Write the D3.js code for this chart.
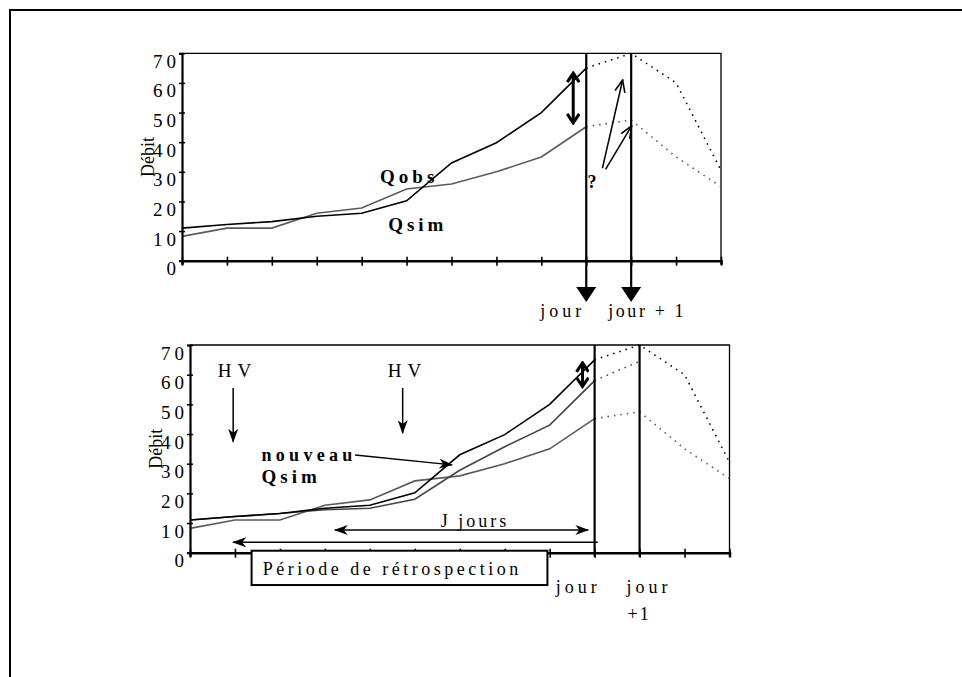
<!DOCTYPE html>
<html>
<head>
<meta charset="utf-8">
<script src="https://cdn.jsdelivr.net/npm/d3@7"></script>
<style>
    body { margin: 0; background: #fff; }
    text { font-family: "Liberation Serif", "Times New Roman", serif; fill: #000; }
</style>
</head>
<body>
<div id="chart"></div>
<script>
// Days on the x axis (index), jour = day 9, jour + 1 = day 10
const days = [0, 1, 2, 3, 4, 5, 6, 7, 8, 9, 10, 11, 12];
const qObs = [11, 12.2, 13.2, 15, 16, 20.2, 33, 39.8, 50, 65, 70, 60, 30.5];
const qSim = [8.2, 11, 11, 16, 17.8, 24.2, 25.9, 30, 35, 45.2, 47.5, 35, 25];
const qSimNew = [11, 12.2, 13.2, 14.5, 15, 18, 27.8, 35.7, 43, 58, 64.5];
const yTicks = [0, 10, 20, 30, 40, 50, 60, 70];
const yTickLabels = ['0', '10', '20', '30', '40', '50', '60', '70'];
const jourDay = 9;

const width = 962, height = 677;

const svg = d3.select('#chart')
    .append('svg')
    .attr('width', width)
    .attr('height', height);

// Arrow markers
const defs = svg.append('defs');
defs.append('marker')
    .attr('id', 'head-fill')
    .attr('markerUnits', 'userSpaceOnUse')
    .attr('viewBox', '0 0 14 10')
    .attr('markerWidth', 14).attr('markerHeight', 10)
    .attr('refX', 13).attr('refY', 5)
    .attr('orient', 'auto-start-reverse')
    .append('path')
    .attr('d', 'M0,0 L14,5 L0,10 L4,5 Z')
    .attr('fill', '#000');
defs.append('marker')
    .attr('id', 'head-open')
    .attr('markerUnits', 'userSpaceOnUse')
    .attr('viewBox', '0 0 14 12')
    .attr('markerWidth', 14).attr('markerHeight', 12)
    .attr('refX', 13).attr('refY', 6)
    .attr('orient', 'auto-start-reverse')
    .append('path')
    .attr('d', 'M1,1 L13,6 L1,11')
    .attr('fill', 'none')
    .attr('stroke', '#000')
    .attr('stroke-width', 1.6);
defs.append('marker')
    .attr('id', 'head-bold')
    .attr('markerUnits', 'userSpaceOnUse')
    .attr('viewBox', '0 0 12 14')
    .attr('markerWidth', 12).attr('markerHeight', 14)
    .attr('refX', 10).attr('refY', 7)
    .attr('orient', 'auto-start-reverse')
    .append('path')
    .attr('d', 'M1,1 L10,7 L1,13')
    .attr('fill', 'none')
    .attr('stroke', '#000')
    .attr('stroke-width', 3);

// Outer frame (top and left only)
svg.append('path')
    .attr('d', `M10,${height} L10,10 L${width},10`)
    .attr('fill', 'none')
    .attr('stroke', '#000')
    .attr('stroke-width', 2);

function drawPanel(panel, series) {
    const g = svg.append('g');
    const x = d3.scaleLinear().domain([0, 12]).range([panel.left, panel.right]);
    const y = d3.scaleLinear().domain([0, 70]).range([panel.bottom, panel.top]);

    // Plot frame top and right
    g.append('path')
        .attr('d', `M${x(0)},${y(70)} L${x(12)},${y(70)} L${x(12)},${y(0)}`)
        .attr('fill', 'none')
        .attr('stroke', '#000')
        .attr('stroke-width', 1.3);

    // Series: solid up to jour, dotted afterwards
    series.forEach(s => {
        const pts = s.values.map((v, i) => [x(days[i]), y(v)]);
        g.append('path')
            .attr('d', d3.line()(pts.slice(0, jourDay + 1)))
            .attr('fill', 'none')
            .attr('stroke', s.color)
            .attr('stroke-width', 1.6);
        g.append('path')
            .attr('d', d3.line()(pts.slice(jourDay)))
            .attr('fill', 'none')
            .attr('stroke', s.color)
            .attr('stroke-width', 1.6)
            .attr('stroke-dasharray', '1.5,5');
    });

    // Y axis
    const yAxis = g.append('g')
        .attr('transform', `translate(${x(0)},0)`)
        .call(d3.axisLeft(y).tickValues(yTicks).tickSize(3).tickFormat((d, i) => yTickLabels[i]));
    yAxis.select('.domain').attr('stroke-width', 2.2);
    yAxis.selectAll('.tick line').attr('x1', -3).attr('x2', 3).attr('stroke-width', 1.5);
    yAxis.selectAll('.tick text')
        .attr('x', -2)
        .attr('dy', 14)
        .style('font-family', '"Liberation Serif", serif')
        .style('font-size', '19px')
        .style('letter-spacing', '4px');

    // X axis
    const xAxis = g.append('g')
        .attr('transform', `translate(0,${y(0)})`)
        .call(d3.axisBottom(x).tickValues(days).tickSize(4).tickFormat(''));
    xAxis.select('.domain').attr('stroke-width', 2.6);
    xAxis.selectAll('.tick line').attr('y1', -4).attr('y2', 5).attr('stroke-width', 1.6);

    // Y label
    g.append('text')
        .attr('transform', `translate(${panel.left - 28},${(y(0) + y(70)) / 2}) rotate(-90)`)
        .attr('text-anchor', 'middle')
        .style('font-size', '18px')
        .text('Débit');

    return { g, x, y };
}

function label(p, text, dx, dy, opts) {
    const t = p.g.append('text')
        .attr('x', p.x(dx))
        .attr('y', p.y(dy))
        .style('font-size', (opts.size || 18) + 'px')
        .style('letter-spacing', (opts.spacing || 0) + 'px')
        .text(text);
    if (opts.bold) t.style('font-weight', 'bold');
    return t;
}

function arrow(p, x1, y1, x2, y2, opts) {
    const l = p.g.append('line')
        .attr('x1', p.x(x1)).attr('y1', p.y(y1))
        .attr('x2', p.x(x2)).attr('y2', p.y(y2))
        .attr('stroke', '#000')
        .attr('stroke-width', opts.width || 1.5);
    if (opts.end) l.attr('marker-end', `url(#${opts.end})`);
    if (opts.start) l.attr('marker-start', `url(#${opts.start})`);
    return l;
}

// ---- Top panel ----
const topPanel = drawPanel({ left: 182, right: 721, top: 53.3, bottom: 260.7 }, [
    { values: qSim, color: '#5a5a5a' },
    { values: qObs, color: '#000' }
]);

label(topPanel, 'Qobs', 4.41, 26.2, { bold: true, size: 19, spacing: 4 });
label(topPanel, 'Qsim', 4.59, 10.0, { bold: true, size: 19, spacing: 4 });
label(topPanel, '?', 9.03, 24.5, { bold: true, size: 18 });

// Gap between Qobs and Qsim
arrow(topPanel, 8.71, 63.3, 8.71, 46.5, { width: 3, start: 'head-bold', end: 'head-bold' });
// Arrows towards jour + 1
arrow(topPanel, 9.36, 31.2, 9.81, 61, { end: 'head-open' });
arrow(topPanel, 9.43, 30.8, 10.01, 45.5, { end: 'head-open' });

// jour / jour + 1 markers below the top panel
[jourDay, jourDay + 1].forEach(d => {
    const xp = topPanel.x(d);
    topPanel.g.append('line')
        .attr('x1', xp).attr('y1', topPanel.y(70))
        .attr('x2', xp).attr('y2', 290)
        .attr('stroke', '#000')
        .attr('stroke-width', 2.2);
    topPanel.g.append('path')
        .attr('d', `M${xp - 10},287 L${xp + 10},287 L${xp},302 Z`)
        .attr('fill', '#000');
});
topPanel.g.append('text')
    .attr('x', topPanel.x(jourDay) - 46).attr('y', 317)
    .style('font-size', '18px').style('letter-spacing', '4px')
    .text('jour');
topPanel.g.append('text')
    .attr('x', topPanel.x(jourDay + 1) - 23).attr('y', 317)
    .style('font-size', '18px').style('letter-spacing', '2.6px')
    .text('jour + 1');

// ---- Bottom panel ----
const botPanel = drawPanel({ left: 190, right: 729.5, top: 345, bottom: 552.7 }, [
    { values: qSim, color: '#5a5a5a' },
    { values: qSimNew, color: '#444' },
    { values: qObs, color: '#000' }
]);

label(botPanel, 'HV', 0.62, 59.3, { size: 19, spacing: 6 });
label(botPanel, 'HV', 4.40, 59.3, { size: 19, spacing: 6 });
arrow(botPanel, 0.96, 55.5, 0.96, 37.4, { end: 'head-fill' });
arrow(botPanel, 4.73, 55.5, 4.73, 40.3, { end: 'head-fill' });

label(botPanel, 'nouveau', 1.59, 31, { bold: true, size: 18, spacing: 4.3 });
label(botPanel, 'Qsim', 1.59, 23.4, { bold: true, size: 19, spacing: 4 });
arrow(botPanel, 3.67, 32.9, 5.83, 29.6, { end: 'head-fill' });

// Gap at jour
arrow(botPanel, 8.73, 64, 8.73, 56, { width: 3, start: 'head-bold', end: 'head-bold' });

// J jours
label(botPanel, 'J jours', 5.58, 8.66, { size: 18, spacing: 3 });
arrow(botPanel, 3.22, 7.65, 8.86, 7.65, { start: 'head-fill', end: 'head-fill' });

// Période de rétrospection
arrow(botPanel, 0.96, 3.5, 9.07, 3.5, { start: 'head-fill' });
botPanel.g.append('rect')
    .attr('x', botPanel.x(1.37)).attr('y', botPanel.y(0.67))
    .attr('width', botPanel.x(7.95) - botPanel.x(1.37))
    .attr('height', botPanel.y(-10.9) - botPanel.y(0.67))
    .attr('fill', '#fff')
    .attr('stroke', '#000')
    .attr('stroke-width', 2);
label(botPanel, 'Période de rétrospection', 1.62, -7.5, { size: 18, spacing: 3.5 });

// jour / jour + 1 lines in the bottom panel
[jourDay, jourDay + 1].forEach(d => {
    botPanel.g.append('line')
        .attr('x1', botPanel.x(d)).attr('y1', botPanel.y(70))
        .attr('x2', botPanel.x(d)).attr('y2', botPanel.y(0) + 4)
        .attr('stroke', '#000')
        .attr('stroke-width', 2.2);
});
botPanel.g.append('text')
    .attr('x', botPanel.x(jourDay) - 39).attr('y', 593)
    .style('font-size', '18px').style('letter-spacing', '4px')
    .text('jour');
botPanel.g.append('text')
    .attr('x', botPanel.x(jourDay + 1) - 13).attr('y', 593)
    .style('font-size', '18px').style('letter-spacing', '4px')
    .text('jour');
botPanel.g.append('text')
    .attr('x', botPanel.x(jourDay + 1) - 12).attr('y', 620)
    .style('font-size', '18px').style('letter-spacing', '2px')
    .text('+1');
</script>
</body>
</html>
